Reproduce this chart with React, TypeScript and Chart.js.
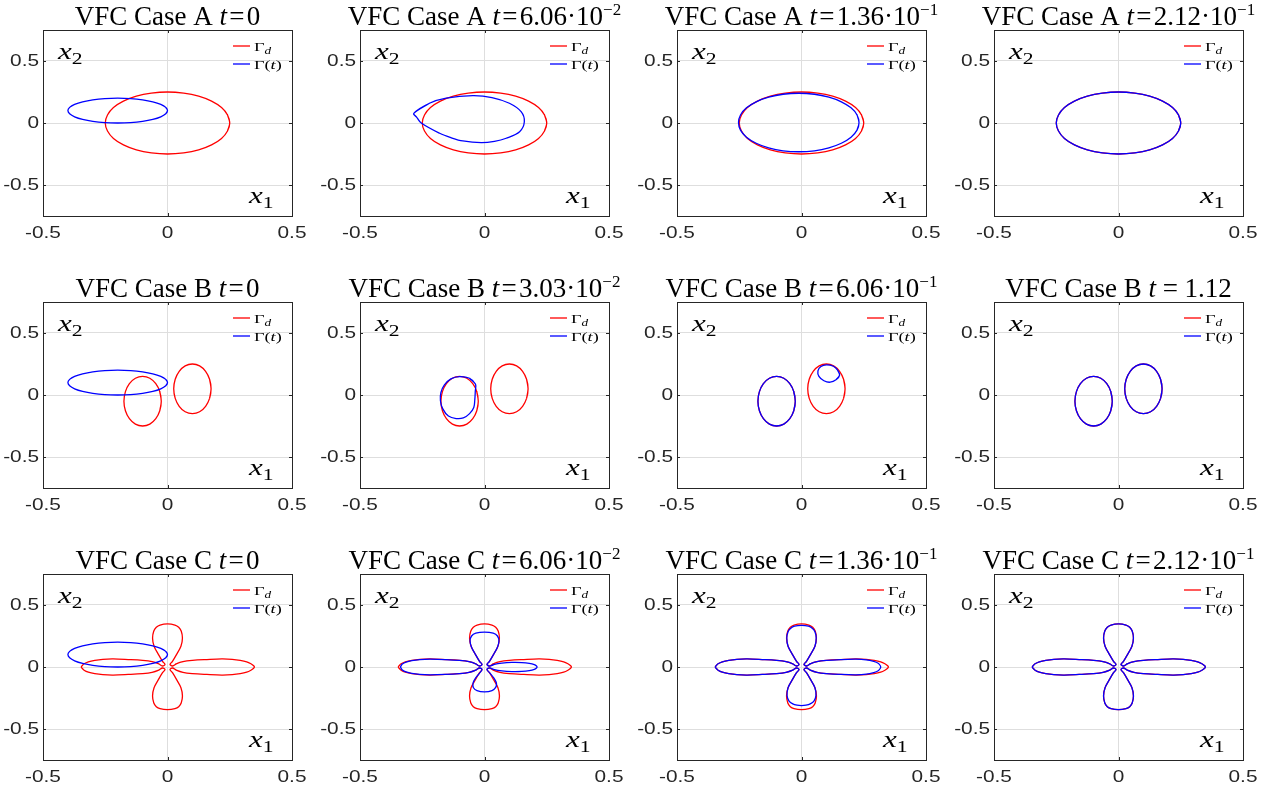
import React, { useEffect, useRef } from "react";
import { Chart, registerables } from "chart.js";
Chart.register(...registerables);

type Pt = [number, number];

// ---------- axis / text data ----------
const xTicks = [-0.5, 0, 0.5];
const yTicks = [-0.5, 0, 0.5];
const xTickLabels = ["-0.5", "0", "0.5"];
const yTickLabels = ["-0.5", "0", "0.5"];
const caseNames = ["A", "B", "C"];
const timeEquals = [
  ["\u200A=\u200A", "\u200A=\u200A", "\u200A=\u200A", "\u200A=\u200A"],
  ["\u200A=\u200A", "\u200A=\u200A", "\u200A=\u200A", " = "],
  ["\u200A=\u200A", "\u200A=\u200A", "\u200A=\u200A", "\u200A=\u200A"],
];
const timeValues = [
  ["0", "6.06·10", "1.36·10", "2.12·10"],
  ["0", "3.03·10", "6.06·10", "1.12"],
  ["0", "6.06·10", "1.36·10", "2.12·10"],
];
const timeExponents = [
  ["", "−2", "−1", "−1"],
  ["", "−2", "−1", ""],
  ["", "−2", "−1", "−1"],
];

// ---------- curve data (closed curves, first point not repeated) ----------
// Target Γd, case A: circle
const redA: Pt[] = [
  [0.25, 0], [0.241, 0.065], [0.217, 0.125], [0.177, 0.177], [0.125, 0.217], [0.065, 0.241],
  [0, 0.25], [-0.065, 0.241], [-0.125, 0.217], [-0.177, 0.177], [-0.217, 0.125], [-0.241, 0.065],
  [-0.25, 0], [-0.241, -0.065], [-0.217, -0.125], [-0.177, -0.177], [-0.125, -0.217], [-0.065, -0.241],
  [0, -0.25], [0.065, -0.241], [0.125, -0.217], [0.177, -0.177], [0.217, -0.125], [0.241, -0.065],
];
// Initial Γ(0), all cases
const blueInit: Pt[] = [
  [0, 0.1], [-0.007, 0.126], [-0.027, 0.15], [-0.059, 0.171], [-0.1, 0.187], [-0.148, 0.197],
  [-0.2, 0.2], [-0.252, 0.197], [-0.3, 0.187], [-0.341, 0.171], [-0.373, 0.15], [-0.393, 0.126],
  [-0.4, 0.1], [-0.393, 0.074], [-0.373, 0.05], [-0.341, 0.029], [-0.3, 0.013], [-0.252, 0.003],
  [-0.2, 0], [-0.148, 0.003], [-0.1, 0.013], [-0.059, 0.029], [-0.027, 0.05], [-0.007, 0.074],
];
const blueA1: Pt[] = [
  [-0.284, 0.078], [-0.221, 0.159], [-0.154, 0.2], [-0.047, 0.22], [0.03, 0.205], [0.1, 0.159],
  [0.147, 0.091], [0.16, 0.01], [0.141, -0.07], [0.087, -0.123], [0.04, -0.148], [-0.013, -0.159],
  [-0.087, -0.145], [-0.135, -0.118], [-0.18, -0.083], [-0.254, 0], [-0.272, 0.046],
];
const blueA2: Pt[] = [
  [0.231, 0.004], [0.223, 0.065], [0.199, 0.122], [0.16, 0.171], [0.11, 0.208], [0.052, 0.232],
  [-0.011, 0.24], [-0.074, 0.232], [-0.132, 0.208], [-0.182, 0.171], [-0.221, 0.122], [-0.245, 0.065],
  [-0.253, 0.004], [-0.245, -0.057], [-0.221, -0.114], [-0.182, -0.163], [-0.132, -0.2], [-0.074, -0.224],
  [-0.011, -0.232], [0.052, -0.224], [0.11, -0.2], [0.16, -0.163], [0.199, -0.114], [0.223, -0.057],
];
// Target Γd, case B: two ellipses
const redBLeft: Pt[] = [
  [-0.025, -0.05], [-0.031, 0.027], [-0.047, 0.091], [-0.071, 0.135], [-0.1, 0.15], [-0.129, 0.135],
  [-0.153, 0.091], [-0.169, 0.027], [-0.175, -0.05], [-0.169, -0.127], [-0.153, -0.191], [-0.129, -0.235],
  [-0.1, -0.25], [-0.071, -0.235], [-0.047, -0.191], [-0.031, -0.127],
];
const redBRight: Pt[] = [
  [0.175, 0.05], [0.169, 0.127], [0.153, 0.191], [0.129, 0.235], [0.1, 0.25], [0.071, 0.235],
  [0.047, 0.191], [0.031, 0.127], [0.025, 0.05], [0.031, -0.027], [0.047, -0.091], [0.071, -0.135],
  [0.1, -0.15], [0.129, -0.135], [0.153, -0.091], [0.169, -0.027],
];
const blueB1: Pt[] = [
  [-0.036, 0.086], [-0.06, 0.135], [-0.1, 0.148], [-0.135, 0.13], [-0.161, 0.081], [-0.175, 0.02],
  [-0.177, -0.046], [-0.168, -0.11], [-0.145, -0.17], [-0.114, -0.19], [-0.085, -0.185], [-0.06, -0.15],
  [-0.043, -0.1], [-0.039, -0.04], [-0.037, 0.03],
];
const blueB2Blob: Pt[] = [
  [0.153, 0.16], [0.145, 0.2], [0.128, 0.232], [0.1, 0.243], [0.078, 0.23], [0.066, 0.195],
  [0.07, 0.15], [0.09, 0.115], [0.115, 0.103], [0.14, 0.125],
];
// Target Γd, case C: four petals
const redC: Pt[] = [
  [0.02, 0.008], [0.035, 0.025], [0.062, 0.043], [0.1, 0.053], [0.158, 0.06], [0.218, 0.065],
  [0.26, 0.062], [0.292, 0.054], [0.318, 0.042], [0.335, 0.026], [0.346, 0.01], [0.349, 0],
  [0.346, -0.01], [0.335, -0.026], [0.318, -0.042], [0.292, -0.054], [0.26, -0.062], [0.218, -0.065],
  [0.158, -0.06], [0.1, -0.053], [0.062, -0.043], [0.035, -0.025], [0.02, -0.008],
  [0.01, -0.02], [0.02, -0.046], [0.036, -0.1], [0.054, -0.167], [0.06, -0.234], [0.055, -0.29],
  [0.045, -0.32], [0.03, -0.336], [0, -0.344], [-0.03, -0.336], [-0.045, -0.32], [-0.055, -0.29],
  [-0.06, -0.234], [-0.054, -0.167], [-0.036, -0.1], [-0.02, -0.046], [-0.01, -0.02],
  [-0.02, -0.008], [-0.035, -0.025], [-0.062, -0.043], [-0.1, -0.053], [-0.158, -0.06], [-0.218, -0.065],
  [-0.26, -0.062], [-0.292, -0.054], [-0.318, -0.042], [-0.335, -0.026], [-0.343, -0.01], [-0.346, 0],
  [-0.343, 0.01], [-0.335, 0.026], [-0.318, 0.042], [-0.292, 0.054], [-0.26, 0.062], [-0.218, 0.065],
  [-0.158, 0.06], [-0.1, 0.053], [-0.062, 0.043], [-0.035, 0.025], [-0.02, 0.008],
  [-0.01, 0.02], [-0.02, 0.046], [-0.036, 0.1], [-0.054, 0.167], [-0.06, 0.234], [-0.055, 0.29],
  [-0.045, 0.32], [-0.03, 0.338], [0, 0.347], [0.03, 0.338], [0.045, 0.32], [0.055, 0.29],
  [0.06, 0.234], [0.054, 0.167], [0.036, 0.1], [0.02, 0.046], [0.01, 0.02],
];
const blueC1: Pt[] = [
  [0.02, 0.007], [0.04, 0.022], [0.07, 0.032], [0.11, 0.037], [0.15, 0.036], [0.18, 0.03],
  [0.2, 0.02], [0.209, 0.008], [0.211, 0], [0.209, -0.008], [0.2, -0.02], [0.18, -0.03],
  [0.15, -0.036], [0.11, -0.037], [0.07, -0.032], [0.04, -0.022], [0.02, -0.007],
  [0.01, -0.02], [0.022, -0.05], [0.038, -0.09], [0.048, -0.13], [0.045, -0.165], [0.03, -0.19],
  [0, -0.2], [-0.03, -0.19], [-0.045, -0.165], [-0.046, -0.13], [-0.036, -0.09], [-0.02, -0.05], [-0.01, -0.02],
  [-0.02, -0.008], [-0.035, -0.025], [-0.062, -0.043], [-0.1, -0.053], [-0.158, -0.06], [-0.218, -0.063],
  [-0.26, -0.06], [-0.292, -0.052], [-0.315, -0.04], [-0.33, -0.024], [-0.335, -0.01], [-0.337, 0],
  [-0.335, 0.01], [-0.33, 0.024], [-0.315, 0.04], [-0.292, 0.052], [-0.26, 0.06], [-0.218, 0.063],
  [-0.158, 0.06], [-0.1, 0.053], [-0.062, 0.043], [-0.035, 0.025], [-0.02, 0.008],
  [-0.01, 0.02], [-0.02, 0.046], [-0.036, 0.1], [-0.052, 0.16], [-0.058, 0.21], [-0.052, 0.25],
  [-0.035, 0.273], [0, 0.282], [0.035, 0.273], [0.052, 0.25], [0.058, 0.21], [0.052, 0.16],
  [0.036, 0.1], [0.02, 0.046], [0.01, 0.02],
];
const blueC2: Pt[] = [
  [0.02, 0.008], [0.035, 0.025], [0.062, 0.043], [0.1, 0.053], [0.158, 0.06], [0.218, 0.063],
  [0.26, 0.058], [0.29, 0.045], [0.308, 0.03], [0.316, 0.012], [0.318, 0], [0.316, -0.012],
  [0.308, -0.03], [0.29, -0.045], [0.26, -0.058], [0.218, -0.063], [0.158, -0.06], [0.1, -0.053],
  [0.062, -0.043], [0.035, -0.025], [0.02, -0.008],
  [0.01, -0.02], [0.02, -0.046], [0.036, -0.1], [0.054, -0.167], [0.058, -0.23], [0.05, -0.275],
  [0.035, -0.298], [0.018, -0.308], [0, -0.311], [-0.018, -0.308], [-0.035, -0.298], [-0.05, -0.275],
  [-0.058, -0.23], [-0.054, -0.167], [-0.036, -0.1], [-0.02, -0.046], [-0.01, -0.02],
  [-0.02, -0.008], [-0.035, -0.025], [-0.062, -0.043], [-0.1, -0.053], [-0.158, -0.06], [-0.218, -0.065],
  [-0.26, -0.062], [-0.292, -0.054], [-0.318, -0.042], [-0.335, -0.026], [-0.343, -0.01], [-0.346, 0],
  [-0.343, 0.01], [-0.335, 0.026], [-0.318, 0.042], [-0.292, 0.054], [-0.26, 0.062], [-0.218, 0.065],
  [-0.158, 0.06], [-0.1, 0.053], [-0.062, 0.043], [-0.035, 0.025], [-0.02, 0.008],
  [-0.01, 0.02], [-0.02, 0.046], [-0.036, 0.1], [-0.054, 0.167], [-0.059, 0.234], [-0.054, 0.285],
  [-0.043, 0.313], [-0.028, 0.329], [0, 0.336], [0.028, 0.329], [0.043, 0.313], [0.054, 0.285],
  [0.059, 0.234], [0.054, 0.167], [0.036, 0.1], [0.02, 0.046], [0.01, 0.02],
];

const redCurves: Pt[][][] = [[redA], [redBLeft, redBRight], [redC]];
const blueCurves: Pt[][][][] = [
  [[blueInit], [blueA1], [blueA2], [redA]],
  [[blueInit], [blueB1], [redBLeft, blueB2Blob], [redBLeft, redBRight]],
  [[blueInit], [blueC1], [blueC2], [redC]],
];

// ---------- layout ----------
const PLOT_LEFT = [43, 360, 677, 994];
const PLOT_TOP = [30, 302, 574];
const PLOT_W = 249;
const PLOT_H = 186;
const PAD = { left: 43, top: 30, right: 22, bottom: 28 };
const CW = PAD.left + PLOT_W + PAD.right;
const CH = PAD.top + PLOT_H + PAD.bottom;

const RED = "#ff0000";
const BLUE = "#0000ff";
const GRID = "#dedede";
const AXIS = "#262626";
const SERIF = '"Liberation Serif", "Times New Roman", serif';
const SANS = '"Liberation Sans", Arial, sans-serif';

function closedData(pts: Pt[]) {
  const n = pts.length;
  const seq = [pts[n - 1], ...pts, pts[0], pts[1]];
  return seq.map(([x, y]) => ({ x, y }));
}

function stretchText(ctx: CanvasRenderingContext2D, txt: string, x: number, y: number, sx: number, align: CanvasTextAlign) {
  ctx.save();
  ctx.translate(x, y);
  ctx.scale(sx, 1);
  ctx.textAlign = align;
  ctx.fillText(txt, 0, 0);
  ctx.restore();
}

type Part = { t: string; font: string; dy: number };
function drawParts(ctx: CanvasRenderingContext2D, parts: Part[], x: number, y: number, sx: number, align: "left" | "center") {
  let total = 0;
  const widths = parts.map((p) => {
    ctx.font = p.font;
    const w = ctx.measureText(p.t).width;
    total += w;
    return w;
  });
  ctx.save();
  ctx.translate(x, y);
  ctx.scale(sx, 1);
  let cx = align === "center" ? -total / 2 : 0;
  ctx.textAlign = "left";
  ctx.textBaseline = "alphabetic";
  parts.forEach((p, i) => {
    ctx.font = p.font;
    ctx.fillText(p.t, cx, p.dy);
    cx += widths[i];
  });
  ctx.restore();
}

function decorPlugin(row: number, col: number) {
  return {
    id: "decor",
    afterDraw(chart: any) {
      const ctx: CanvasRenderingContext2D = chart.ctx;
      const { left, right, top, bottom } = chart.chartArea;
      const xs = chart.scales.x;
      const ys = chart.scales.y;
      ctx.save();
      // inner tick marks
      ctx.strokeStyle = AXIS;
      ctx.lineWidth = 1;
      ctx.beginPath();
      yTicks.forEach((v) => {
        const y = Math.round(ys.getPixelForValue(v)) + 0.5;
        ctx.moveTo(left, y);
        ctx.lineTo(left + 3, y);
        ctx.moveTo(right, y);
        ctx.lineTo(right - 3, y);
      });
      xTicks.forEach((v) => {
        const x = Math.round(xs.getPixelForValue(v)) + 0.5;
        ctx.moveTo(x, bottom);
        ctx.lineTo(x, bottom - 3);
        ctx.moveTo(x, top);
        ctx.lineTo(x, top + 3);
      });
      ctx.stroke();
      // box
      ctx.strokeRect(left + 0.5, top + 0.5, right - left, bottom - top);

      // tick labels
      ctx.fillStyle = AXIS;
      ctx.font = `16px ${SANS}`;
      ctx.textBaseline = "alphabetic";
      xTicks.forEach((v, i) => {
        stretchText(ctx, xTickLabels[i], xs.getPixelForValue(v), bottom + 21.5, 1.3, "center");
      });
      ctx.textBaseline = "middle";
      yTicks.forEach((v, i) => {
        stretchText(ctx, yTickLabels[i], left - 4, ys.getPixelForValue(v) + 0.5, 1.3, "right");
      });

      // axis name labels inside the box
      ctx.fillStyle = "#000";
      drawParts(ctx, [
        { t: "x", font: `italic 23px ${SERIF}`, dy: 0 },
        { t: "2", font: `16px ${SERIF}`, dy: 5 },
      ], left + 15, top + 28.5, 1.35, "left");
      drawParts(ctx, [
        { t: "x", font: `italic 23px ${SERIF}`, dy: 0 },
        { t: "1", font: `16px ${SERIF}`, dy: 5 },
      ], right - 43, bottom - 13, 1.35, "left");

      // legend
      const ly1 = top + 16;
      const ly2 = top + 34;
      ctx.lineWidth = 1.3;
      ctx.strokeStyle = RED;
      ctx.beginPath();
      ctx.moveTo(right - 59, ly1);
      ctx.lineTo(right - 42, ly1);
      ctx.stroke();
      ctx.strokeStyle = BLUE;
      ctx.beginPath();
      ctx.moveTo(right - 59, ly2);
      ctx.lineTo(right - 42, ly2);
      ctx.stroke();
      ctx.fillStyle = "#000";
      drawParts(ctx, [
        { t: "Γ", font: `13px ${SERIF}`, dy: 0 },
        { t: "d", font: `italic 9.5px ${SERIF}`, dy: 3 },
      ], right - 38, ly1 + 4.5, 1.4, "left");
      drawParts(ctx, [
        { t: "Γ(", font: `13px ${SERIF}`, dy: 0 },
        { t: "t", font: `italic 13px ${SERIF}`, dy: 0 },
        { t: ")", font: `13px ${SERIF}`, dy: 0 },
      ], right - 38, ly2 + 4.5, 1.4, "left");

      // title
      const parts: Part[] = [
        { t: `VFC Case ${caseNames[row]} `, font: `27px ${SERIF}`, dy: 0 },
        { t: "t", font: `italic 27px ${SERIF}`, dy: 0 },
        { t: timeEquals[row][col], font: `27px ${SERIF}`, dy: 0 },
        { t: timeValues[row][col], font: `27px ${SERIF}`, dy: 0 },
      ];
      if (timeExponents[row][col]) {
        parts.push({ t: timeExponents[row][col], font: `17px ${SERIF}`, dy: -10 });
      }
      drawParts(ctx, parts, (left + right) / 2, top - 5.5, 1, "center");
      ctx.restore();
    },
  };
}

function Panel({ row, col }: { row: number; col: number }) {
  const ref = useRef<HTMLCanvasElement>(null);
  useEffect(() => {
    const datasets: any[] = [];
    blueCurves[row][col].forEach((c) =>
      datasets.push({ data: closedData(c), borderColor: BLUE, backgroundColor: BLUE, showLine: true, fill: false })
    );
    redCurves[row].forEach((c) =>
      datasets.push({ data: closedData(c), borderColor: RED, backgroundColor: RED, showLine: true, fill: false })
    );
    const chart = new Chart(ref.current as HTMLCanvasElement, {
      type: "scatter",
      data: { datasets },
      options: {
        animation: false,
        responsive: false,
        devicePixelRatio: 1,
        events: [],
        layout: { padding: PAD },
        plugins: { legend: { display: false }, tooltip: { enabled: false }, title: { display: false } },
        elements: {
          point: { radius: 0, hoverRadius: 0 },
          line: { tension: 0.35, borderWidth: 1.3 },
        },
        scales: {
          x: {
            type: "linear",
            min: -0.5,
            max: 0.5,
            afterBuildTicks: (s: any) => {
              s.ticks = xTicks.map((v) => ({ value: v }));
            },
            afterFit: (s: any) => {
              s.height = 0;
            },
            ticks: { display: false },
            grid: { color: GRID, drawTicks: false, lineWidth: 1 },
            border: { display: false },
          },
          y: {
            type: "linear",
            min: -0.75,
            max: 0.75,
            afterBuildTicks: (s: any) => {
              s.ticks = yTicks.map((v) => ({ value: v }));
            },
            afterFit: (s: any) => {
              s.width = 0;
            },
            ticks: { display: false },
            grid: { color: GRID, drawTicks: false, lineWidth: 1 },
            border: { display: false },
          },
        },
      } as any,
      plugins: [decorPlugin(row, col)],
    });
    return () => chart.destroy();
  }, [row, col]);
  return (
    <div
      style={{
        position: "absolute",
        left: PLOT_LEFT[col] - PAD.left,
        top: PLOT_TOP[row] - PAD.top,
        width: CW,
        height: CH,
      }}
    >
      <canvas ref={ref} width={CW} height={CH} style={{ display: "block" }} />
    </div>
  );
}

export default function App() {
  const panels = [];
  for (let r = 0; r < 3; r++) {
    for (let c = 0; c < 4; c++) {
      panels.push(<Panel key={`${r}-${c}`} row={r} col={c} />);
    }
  }
  return (
    <div style={{ position: "absolute", left: 0, top: 0, width: 1269, height: 789, background: "#fff" }}>
      {panels}
    </div>
  );
}
